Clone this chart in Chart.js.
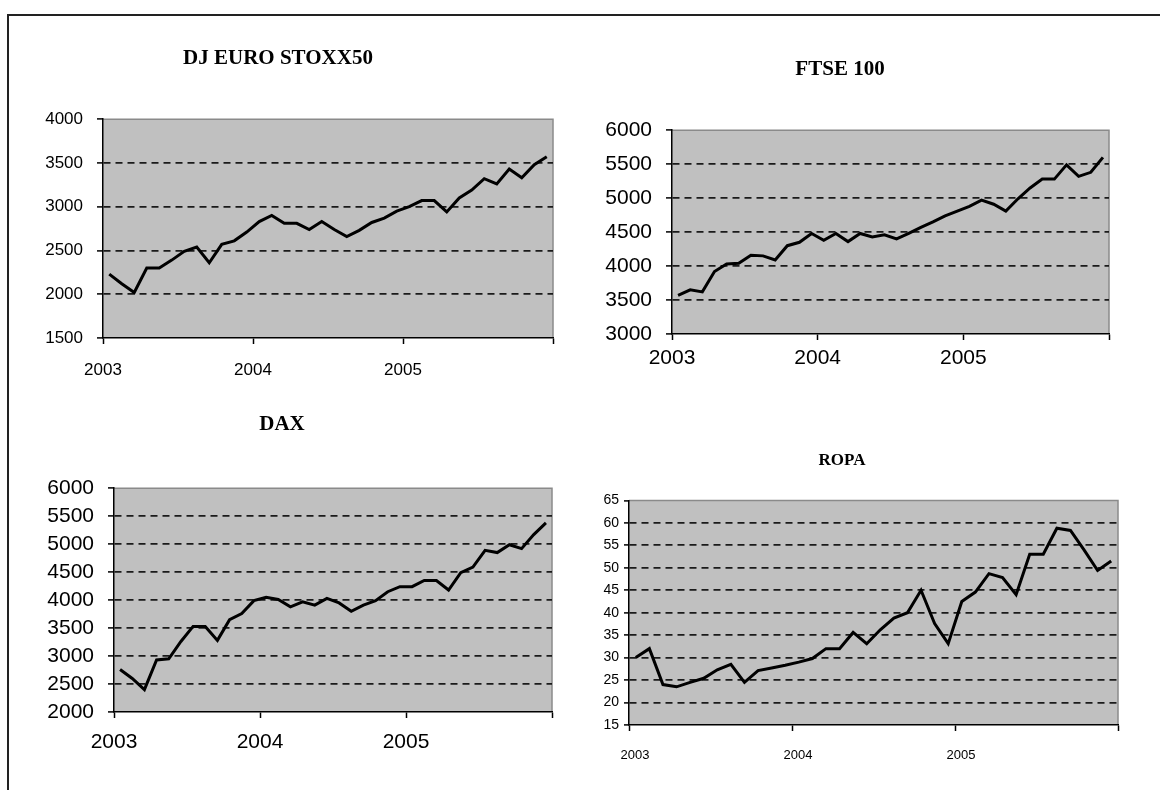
<!DOCTYPE html>
<html>
<head>
<meta charset="utf-8">
<script src="https://cdn.jsdelivr.net/npm/chart.js@4/dist/chart.umd.min.js"></script>
<style>
  html, body { margin: 0; padding: 0; background: #fff; }
  body { width: 1160px; height: 790px; position: relative; overflow: hidden; }
  .frame { position: absolute; left: 7px; top: 14px; width: 1200px; height: 800px;
           border-left: 2px solid #222; border-top: 2px solid #222; }
  .box { position: absolute; }
</style>
</head>
<body>
<div class="frame"></div>
<div class="box" style="left:0px;top:20px;width:580px;height:380px"><canvas id="c1"></canvas></div>
<div class="box" style="left:570px;top:20px;width:590px;height:380px"><canvas id="c2"></canvas></div>
<div class="box" style="left:0px;top:400px;width:580px;height:390px"><canvas id="c3"></canvas></div>
<div class="box" style="left:560px;top:400px;width:600px;height:390px"><canvas id="c4"></canvas></div>

<script>
// monthly closes, Jan 2003 - Dec 2005
const yearLabels = ['2003', '2004', '2005']

const stoxx50 = [2230, 2120, 2020, 2300, 2300, 2390, 2490, 2540, 2360, 2570, 2610, 2710,
                 2830, 2900, 2810, 2810, 2740, 2830, 2740, 2660, 2730, 2820, 2870, 2950,
                 3000, 3070, 3070, 2940, 3100, 3190, 3320, 3260, 3430, 3330, 3480, 3570]

const ftse100 = [3570, 3650, 3620, 3920, 4030, 4040, 4160, 4150, 4090, 4300, 4350, 4480,
                 4380, 4480, 4360, 4480, 4430, 4460, 4400, 4480, 4570, 4650, 4740, 4810,
                 4880, 4970, 4910, 4810, 4990, 5150, 5280, 5280, 5490, 5320, 5380, 5600]

const dax = [2760, 2600, 2400, 2930, 2950, 3260, 3530, 3530, 3280, 3650, 3760, 3990,
             4050, 4010, 3880, 3970, 3910, 4030, 3950, 3800, 3910, 3990, 4150, 4240,
             4240, 4350, 4350, 4180, 4490, 4590, 4890, 4850, 4990, 4920, 5170, 5380]

const ropa = [30, 32, 24, 23.5, 24.5, 25.4, 27.3, 28.5, 24.5, 27.1, 27.7, 28.3,
              29, 29.8, 32, 32, 35.6, 33.1, 36.2, 38.8, 40, 45, 37.6, 33.1,
              42.5, 44.6, 48.7, 47.8, 44, 53, 53, 58.8, 58.3, 54, 49.4, 51.5]

// grey plot area with a thin grey frame on top and right
const plotArea = {
  id: 'plotArea',
  beforeDraw(chart) {
    const { ctx, chartArea: a } = chart
    ctx.save()
    ctx.fillStyle = '#c0c0c0'
    ctx.fillRect(a.left, a.top, a.width, a.height)
    ctx.strokeStyle = '#8a8a8a'
    ctx.lineWidth = 1.5
    ctx.beginPath()
    ctx.moveTo(a.left, a.top)
    ctx.lineTo(a.right, a.top)
    ctx.lineTo(a.right, a.bottom)
    ctx.stroke()
    ctx.restore()
  }
}

function makeChart(id, title, values, o) {
  const points = values.map((v, i) => ({ x: i + 0.5, y: v }))
  new Chart(document.getElementById(id), {
    type: 'line',
    data: {
      datasets: [{
        data: points,
        borderColor: '#000',
        borderWidth: 3,
        pointRadius: 0,
        tension: 0
      }]
    },
    options: {
      responsive: true,
      maintainAspectRatio: false,
      animation: false,
      layout: { padding: { left: o.padLeft, right: o.padRight, top: 0, bottom: 0 } },
      plugins: {
        legend: { display: false },
        tooltip: { enabled: false },
        title: {
          display: true,
          text: title,
          color: '#000',
          font: { family: 'Liberation Serif', weight: 'bold', size: o.titleSize },
          padding: { top: o.titleTop, bottom: o.titleBottom }
        }
      },
      scales: {
        x: {
          type: 'linear',
          min: 0,
          max: 36,
          afterFit: s => { s.height = o.xHeight },
          ticks: {
            stepSize: 12,
            maxRotation: 0,
            autoSkip: false,
            padding: o.xPad,
            labelOffset: o.xShift || 0,
            color: '#000',
            font: { family: 'Liberation Sans', size: o.xFont },
            callback: v => yearLabels[v / 12] || ''
          },
          grid: {
            drawOnChartArea: false,
            tickLength: 6,
            tickColor: '#000',
            tickWidth: 1.5
          },
          border: { color: '#000', width: 1.5 }
        },
        y: {
          min: o.min,
          max: o.max,
          afterFit: s => { s.width = o.yWidth },
          ticks: {
            stepSize: o.step,
            autoSkip: false,
            padding: o.yPad,
            color: '#000',
            font: { family: 'Liberation Sans', size: o.yFont },
            callback: v => String(v)
          },
          grid: {
            color: c => (c.tick && (c.tick.value === o.min || c.tick.value === o.max)) ? 'rgba(0,0,0,0)' : '#1a1a1a',
            lineWidth: 1.8,
            tickLength: o.yTick,
            tickColor: '#000',
            tickWidth: 1.5,
            tickBorderDash: []
          },
          border: { color: '#000', width: 1.5, dash: [7, 5] }
        }
      }
    },
    plugins: [plotArea]
  })
}

makeChart('c1', 'DJ EURO STOXX50', stoxx50, {
  min: 1500, max: 4000, step: 500,
  padLeft: 3, padRight: 27, yWidth: 100, xHeight: 62,
  titleSize: 21, titleTop: 26, titleBottom: 48,
  xFont: 17, yFont: 17, xPad: 16, yPad: 14, yTick: 6
})

makeChart('c2', 'FTSE 100', ftse100, {
  min: 3000, max: 6000, step: 500,
  padLeft: 1, padRight: 51, yWidth: 101, xHeight: 66,
  titleSize: 21, titleTop: 37, titleBottom: 48,
  xFont: 21, yFont: 21, xPad: 6, yPad: 14, yTick: 6
})

makeChart('c3', 'DAX', dax, {
  min: 2000, max: 6000, step: 500,
  padLeft: 12, padRight: 28, yWidth: 102, xHeight: 78,
  titleSize: 21, titleTop: 12, titleBottom: 51,
  xFont: 21, yFont: 21, xPad: 12, yPad: 14, yTick: 6
})

makeChart('c4', 'ROPA', ropa, {
  min: 15, max: 65, step: 5,
  padLeft: 6, padRight: 42, yWidth: 63, xHeight: 65,
  titleSize: 17, titleTop: 50, titleBottom: 30,
  xFont: 13, yFont: 14, xPad: 17, yPad: 5, yTick: 5, xShift: 6
})
</script>
</body>
</html>
